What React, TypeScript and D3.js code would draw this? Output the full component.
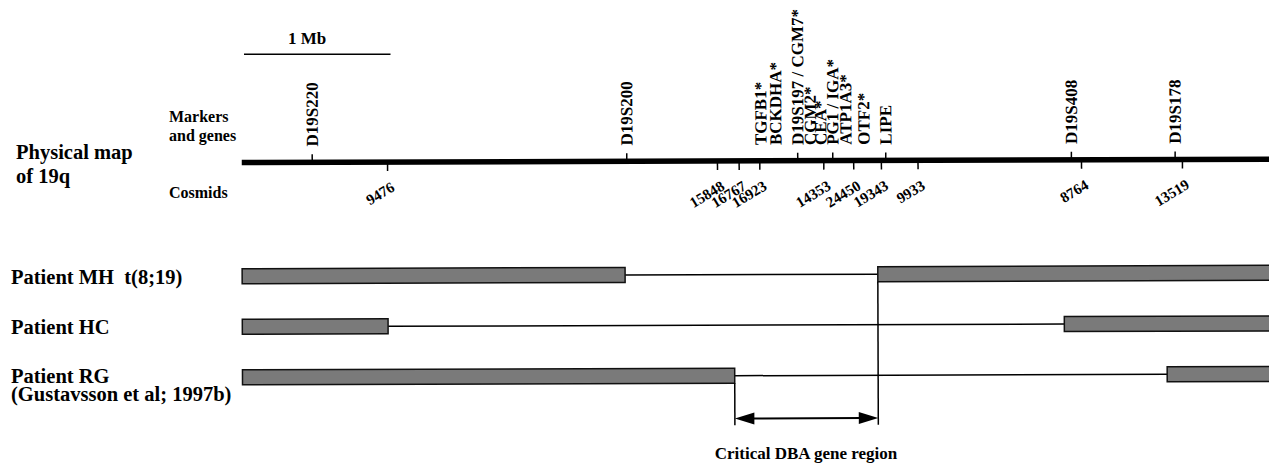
import React, { useEffect, useRef } from 'react'
import { select, scaleLinear, scalePoint } from 'd3'

// positions along 19q in Mb, measured from the left end of the map
const markerNames = ['D19S220', 'D19S200', 'TGFB1*', 'BCKDHA*', 'D19S197 / CGM7*', 'CGM2*', 'CEA*', 'PG1 / IGA*', 'ATP1A3*', 'OTF2*', 'LIPE', 'D19S408', 'D19S178']
const markerPos = [0.481, 2.628, 3.543, 3.645, 3.795, 3.881, 3.952, 4.034, 4.123, 4.246, 4.396, 5.663, 6.371]
const markerTick = [true, true, false, false, true, false, false, true, false, false, true, true, true]

const cosmidNames = ['9476', '15848', '16767', '16923', '14353', '24450', '19343', '9933', '8764', '13519']
const cosmidPos = [0.995, 3.247, 3.395, 3.536, 3.973, 4.177, 4.366, 4.616, 5.732, 6.421]

const mapEnd = 7.02

const patientNames = ['Patient MH  t(8;19)', 'Patient HC', 'Patient RG']
const patientNotes = ['', '', '(Gustavsson et al; 1997b)']
// retained (non deleted / non broken) stretches for each patient
const mhSegments = [[0, 2.614], [4.339, mapEnd]]
const hcSegments = [[0, 0.995], [5.611, mapEnd]]
const rgSegments = [[0, 3.36], [6.312, mapEnd]]
const patientSegments = [mhSegments, hcSegments, rgSegments]

const FONT = '"Liberation Serif", "Times New Roman", Times, serif'

const PhysicalMap = () => {
  const svgRef = useRef(null)

  useEffect(() => {
    const svg = select(svgRef.current)
    svg.selectAll('*').remove()

    const x = scaleLinear().domain([0, mapEnd]).range([242, 242 + mapEnd * 146.5])
    const lineY = 161.2
    const rowY = scalePoint().domain(patientNames).range([274.9, 376])
    const labelY = scalePoint().domain(patientNames).range([284.3, 383.3])

    const root = svg.append('g')
      .attr('font-family', FONT)
      .attr('font-weight', 'bold')
      .attr('fill', '#000')

    // left hand titles
    root.append('text').attr('x', 16).attr('y', 159).attr('font-size', 20.5).text('Physical map')
    root.append('text').attr('x', 16).attr('y', 182.5).attr('font-size', 20.5).text('of 19q')
    root.append('text').attr('x', 169).attr('y', 121.7).attr('font-size', 16).text('Markers')
    root.append('text').attr('x', 169).attr('y', 140.5).attr('font-size', 16).text('and genes')
    root.append('text').attr('x', 169).attr('y', 198.3).attr('font-size', 16).text('Cosmids')

    // scale bar
    root.append('line')
      .attr('x1', x(0) + 2).attr('x2', x(1) + 2)
      .attr('y1', 54.3).attr('y2', 54.3)
      .attr('stroke', '#000').attr('stroke-width', 1.5)
    root.append('text').attr('x', 288).attr('y', 44).attr('font-size', 17).text('1 Mb')

    // patient labels
    root.selectAll('.plabel')
      .data(patientNames)
      .join('text')
      .attr('class', 'plabel')
      .attr('x', 11)
      .attr('y', d => labelY(d))
      .attr('font-size', 20.5)
      .style('white-space', 'pre')
      .text(d => d)
    root.selectAll('.pnote')
      .data(patientNames.filter((d, i) => patientNotes[i]))
      .join('text')
      .attr('class', 'pnote')
      .attr('x', 11)
      .attr('y', d => labelY(d) + 18)
      .attr('font-size', 20.5)
      .text(d => patientNotes[patientNames.indexOf(d)])

    // the scanned figure is slightly tilted
    const map = root.append('g').attr('transform', 'rotate(-0.19, 650, 230)')

    map.append('line')
      .attr('x1', x(0)).attr('x2', x(mapEnd))
      .attr('y1', lineY).attr('y2', lineY)
      .attr('stroke', '#000').attr('stroke-width', 5.5)

    map.selectAll('.mtick')
      .data(markerPos.filter((d, i) => markerTick[i]))
      .join('line')
      .attr('class', 'mtick')
      .attr('x1', d => x(d)).attr('x2', d => x(d))
      .attr('y1', lineY).attr('y2', lineY - 8)
      .attr('stroke', '#000').attr('stroke-width', 1.5)

    map.selectAll('.mlabel')
      .data(markerNames)
      .join('text')
      .attr('class', 'mlabel')
      .attr('transform', (d, i) => `translate(${x(markerPos[i]) + 5.7},${lineY - 15.7}) rotate(-90)`)
      .attr('font-size', 17)
      .style('white-space', 'pre')
      .text(d => d)

    map.selectAll('.ctick')
      .data(cosmidPos)
      .join('line')
      .attr('class', 'ctick')
      .attr('x1', d => x(d)).attr('x2', d => x(d))
      .attr('y1', lineY).attr('y2', lineY + 9)
      .attr('stroke', '#000').attr('stroke-width', 1.5)

    map.selectAll('.clabel')
      .data(cosmidNames)
      .join('text')
      .attr('class', 'clabel')
      .attr('text-anchor', 'end')
      .attr('transform', (d, i) => `translate(${x(cosmidPos[i]) + 8},${lineY + 28}) rotate(-31)`)
      .attr('font-size', 15)
      .text(d => d)

    // patients: thin line = deleted / not present, grey bar = retained
    patientNames.forEach((p, i) => {
      const segs = patientSegments[i]
      const y = rowY(p)
      map.append('line')
        .attr('x1', x(segs[0][1])).attr('x2', x(segs[1][0]))
        .attr('y1', y).attr('y2', y)
        .attr('stroke', '#000').attr('stroke-width', 1.5)
      map.selectAll(`.bar${i}`)
        .data(segs)
        .join('rect')
        .attr('class', `bar${i}`)
        .attr('x', d => x(d[0]))
        .attr('y', y - 7.5)
        .attr('width', d => x(d[1]) - x(d[0]))
        .attr('height', 15)
        .attr('fill', '#7a7a7a')
        .attr('stroke', '#111')
        .attr('stroke-width', 1.5)
    })

    // critical region between RG and MH breakpoints
    const leftX = x(rgSegments[0][1])
    const rightX = x(mhSegments[1][0])
    const yMH = rowY(patientNames[0])
    const yRG = rowY(patientNames[2])
    const bottom = yRG + 49.5
    const ay = yRG + 42.8

    map.append('line')
      .attr('x1', rightX).attr('x2', rightX)
      .attr('y1', yMH + 7.5).attr('y2', bottom)
      .attr('stroke', '#000').attr('stroke-width', 1.5)
    map.append('line')
      .attr('x1', leftX).attr('x2', leftX)
      .attr('y1', yRG + 7.5).attr('y2', bottom)
      .attr('stroke', '#000').attr('stroke-width', 1.5)
    map.append('line')
      .attr('x1', leftX + 15).attr('x2', rightX - 15)
      .attr('y1', ay).attr('y2', ay)
      .attr('stroke', '#000').attr('stroke-width', 2)
    map.append('path')
      .attr('d', `M${leftX},${ay} L${leftX + 19.5},${ay - 6} L${leftX + 19.5},${ay + 6} Z`)
      .attr('fill', '#000')
    map.append('path')
      .attr('d', `M${rightX},${ay} L${rightX - 19.5},${ay - 6} L${rightX - 19.5},${ay + 6} Z`)
      .attr('fill', '#000')

    root.append('text')
      .attr('x', (leftX + rightX) / 2)
      .attr('y', 459)
      .attr('text-anchor', 'middle')
      .attr('font-size', 17)
      .text('Critical DBA gene region')
  }, [])

  return (
    <svg
      ref={svgRef}
      width="1269"
      height="463"
      style={{ position: 'absolute', left: 0, top: 0, background: '#fff' }}
    />
  )
}

export default function App() {
  return <PhysicalMap />
}
